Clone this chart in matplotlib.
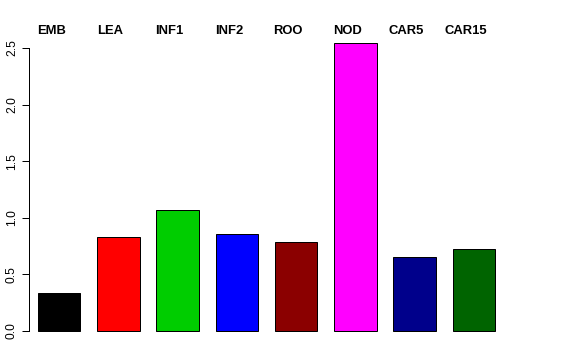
import matplotlib
matplotlib.use("Agg")
import matplotlib.pyplot as plt
import numpy as np

categories = ["EMB", "LEA", "INF1", "INF2", "ROO", "NOD", "CAR5", "CAR15"]
values = [0.338, 0.828, 1.066, 0.860, 0.783, 2.544, 0.651, 0.727]
colors = ["#000000", "#FF0000", "#00CD00", "#0000FF", "#8B0000", "#FF00FF", "#00008B", "#006400"]
yticks = [0.0, 0.5, 1.0, 1.5, 2.0, 2.5]
ytick_labels = ["0.0", "0.5", "1.0", "1.5", "2.0", "2.5"]

plt.rcParams['font.family'] = ['Liberation Sans', 'DejaVu Sans']

W, H = 576, 360
fig = plt.figure(figsize=(W / 72, H / 72), dpi=72)
left, right, top, bottom = 29, 505, 31.5, 342.5
ax = fig.add_axes([left / W, 1 - bottom / H, (right - left) / W, (bottom - top) / H])

x = 0.9 + 1.4 * np.arange(len(categories))
ax.bar(x, values, width=1.0, color=colors, edgecolor="black", linewidth=1.0)

ax.set_xlim(0.187, 11.437)
ax.set_ylim(-0.102, 2.646)

for xi, lab in zip(x, categories):
    ax.text(xi - 0.19, 2.624, lab, ha="center", va="baseline", fontsize=13,
            fontweight="bold", clip_on=False)

for s in ["top", "right", "bottom"]:
    ax.spines[s].set_visible(False)
ax.spines["left"].set_bounds(0, 2.5)
ax.spines["left"].set_linewidth(1.0)
ax.set_xticks([])
ax.set_yticks(yticks)
ax.set_yticklabels(ytick_labels, rotation=90, va="center", fontsize=12)
ax.tick_params(axis="y", length=7, width=1.0, pad=4)

fig.savefig("out.png", dpi=72)
